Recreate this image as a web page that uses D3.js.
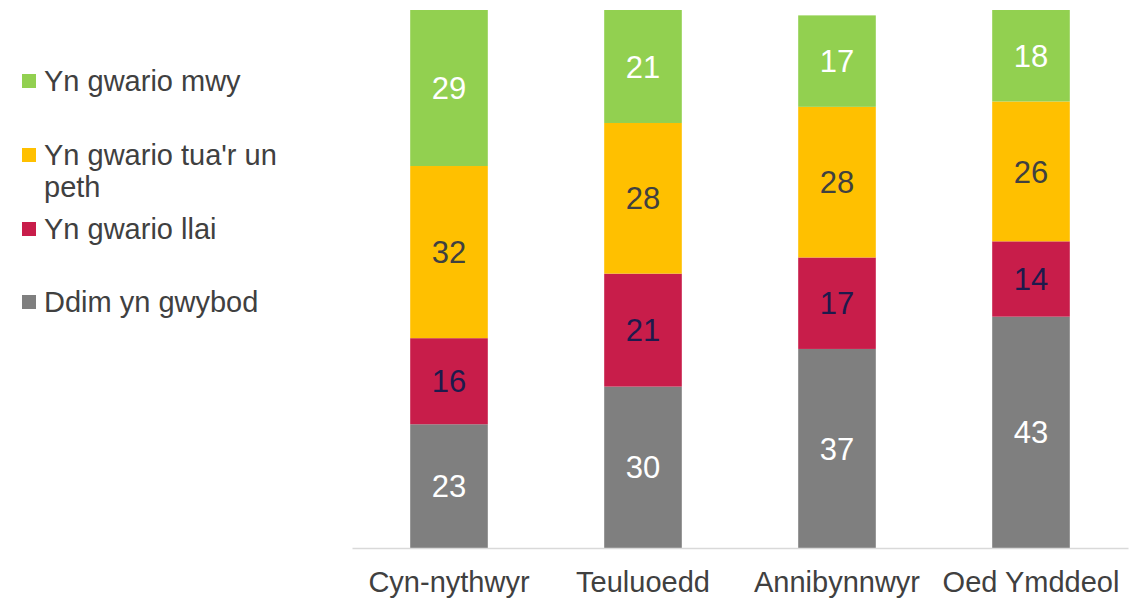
<!DOCTYPE html>
<meta charset="utf-8">
<style>
  body { margin: 0; background: #fff; font-family: "Liberation Sans", Arial, sans-serif; }
</style>
<body>
<script src="https://d3js.org/d3.v7.min.js"></script>
<script>
  // groups along the x axis
  var categories = ["Cyn-nythwyr", "Teuluoedd", "Annibynnwyr", "Oed Ymddeol"];
  // series, bottom to top
  var seriesNames = ["Ddim yn gwybod", "Yn gwario llai", "Yn gwario tua'r un peth", "Yn gwario mwy"];
  var ddimYnGwybod = [23, 30, 37, 43];
  var gwarioLlai = [16, 21, 17, 14];
  var gwarioTuaRUnPeth = [32, 28, 28, 26];
  var gwarioMwy = [29, 21, 17, 18];

  var colors = ["#7f7f7f", "#c81d4a", "#ffc000", "#92d050"];
  var labelColors = ["#ffffff", "#1e1a4c", "#404040", "#ffffff"];

  var width = 1145, height = 600;
  var svg = d3.select("body").append("svg")
    .attr("width", width)
    .attr("height", height);

  // build rows for the stack
  var rows = categories.map(function (c, i) {
    return { cat: c, s0: ddimYnGwybod[i], s1: gwarioLlai[i], s2: gwarioTuaRUnPeth[i], s3: gwarioMwy[i] };
  });
  var stacked = d3.stack().keys(["s0", "s1", "s2", "s3"])(rows);

  var x = d3.scaleBand().domain(categories).range([352, 1128]);
  var y = d3.scaleLinear().domain([0, 100]).range([548, 10]).clamp(true);
  var barW = x.bandwidth() * 0.4;

  // bars
  var layers = svg.selectAll("g.layer").data(stacked).enter().append("g")
    .attr("class", "layer")
    .attr("fill", function (d, i) { return colors[i]; });

  layers.selectAll("rect").data(function (d) { return d; }).enter().append("rect")
    .attr("x", function (d) { return x(d.data.cat) + (x.bandwidth() - barW) / 2; })
    .attr("y", function (d) { return y(d[1]); })
    .attr("width", barW)
    .attr("height", function (d) { return y(d[0]) - y(d[1]); });

  // value labels
  stacked.forEach(function (layer, i) {
    svg.append("g").selectAll("text").data(layer).enter().append("text")
      .attr("x", function (d) { return x(d.data.cat) + x.bandwidth() / 2; })
      .attr("y", function (d) { return (y(d[0]) + y(d[1])) / 2; })
      .attr("dy", "0.36em")
      .attr("text-anchor", "middle")
      .style("font-size", "31px")
      .style("fill", labelColors[i])
      .text(function (d) { return d[1] - d[0]; });
  });

  // x axis
  var xAxis = svg.append("g")
    .attr("transform", "translate(0,548)")
    .call(d3.axisBottom(x).tickSize(0).tickPadding(23));
  xAxis.select(".domain").attr("stroke", "#d9d9d9").attr("stroke-width", 1.5);
  xAxis.selectAll("text")
    .style("font-size", "29px")
    .style("font-family", "Liberation Sans, Arial, sans-serif")
    .style("fill", "#404040");

  // legend
  var legendItems = [
    { i: 3, lines: ["Yn gwario mwy"], y: 81 },
    { i: 2, lines: ["Yn gwario tua'r un", "peth"], y: 155 },
    { i: 1, lines: ["Yn gwario llai"], y: 229 },
    { i: 0, lines: ["Ddim yn gwybod"], y: 302 }
  ];
  var legend = svg.append("g");
  legendItems.forEach(function (it) {
    legend.append("rect")
      .attr("x", 22).attr("y", it.y - 7)
      .attr("width", 14).attr("height", 14)
      .attr("fill", colors[it.i]);
    var t = legend.append("text")
      .attr("x", 44).attr("y", it.y)
      .style("font-size", "29px")
      .style("fill", "#404040");
    it.lines.forEach(function (ln, k) {
      t.append("tspan").attr("x", 44).attr("dy", k === 0 ? "0.36em" : "32px").text(ln);
    });
  });
</script>
</body>
